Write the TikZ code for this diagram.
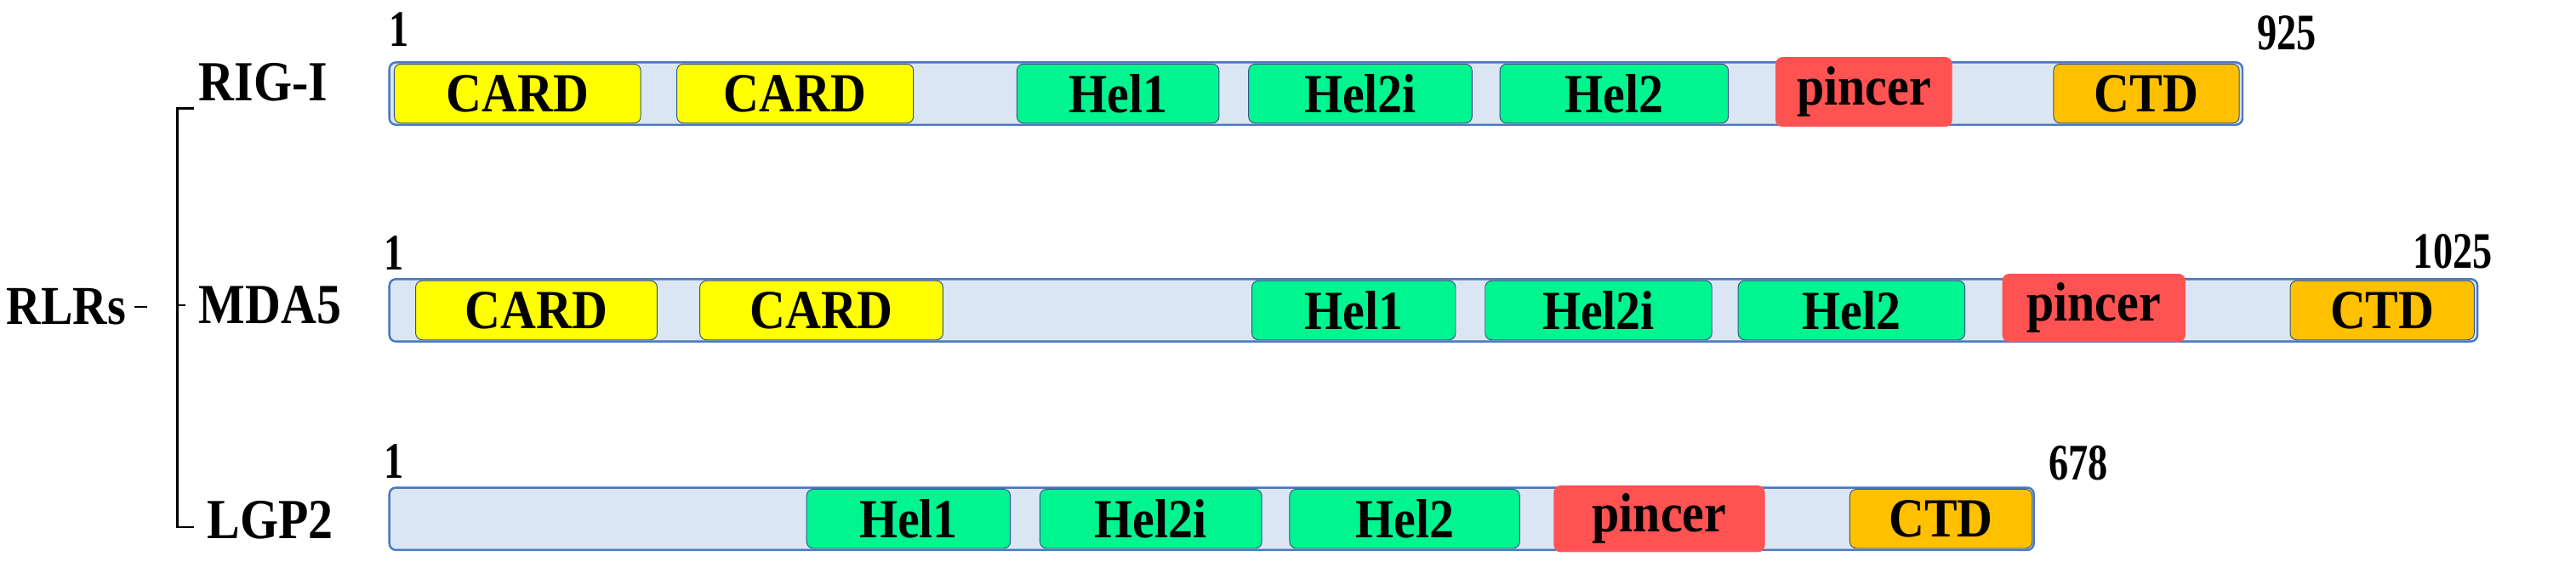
\documentclass[tikz,border=0pt]{standalone}
\usepackage{fontspec}
\usepackage{graphicx}
\setmainfont{Liberation Serif}
\definecolor{barfill}{HTML}{DAE6F3}
\definecolor{barline}{HTML}{4A78C0}
\definecolor{cardc}{HTML}{FFFF00}
\definecolor{helc}{HTML}{00F591}
\definecolor{pinc}{HTML}{FF5252}
\definecolor{ctdc}{HTML}{FFC000}
\newcommand{\tall}[2]{\scalebox{1}[#1]{#2}}
\begin{document}
\begin{tikzpicture}[x=2pt,y=-2pt,
  bar/.style={draw=barline,line width=2.5pt,fill=barfill,rounded corners=8pt},
  dom/.style={draw=barline!70!black,line width=1pt,rounded corners=8pt,font=\fontsize{60}{70}\selectfont\bfseries},
  card/.style={dom,fill=cardc},
  hel/.style={dom,fill=helc},
  pin/.style={dom,fill=pinc,draw=pinc},
  ctd/.style={dom,fill=ctdc},
  lab/.style={font=\fontsize{60}{70}\selectfont\bfseries},
  num/.style={font=\fontsize{48}{56}\selectfont\bfseries}]
\useasboundingbox (0,0) rectangle (1568,349);
\newcommand{\dmn}[7]{\node[#1,minimum width={2pt*(#3-#2)},minimum height={2pt*(#5-#4)},inner sep=0pt] (#6) at ({(#2+#3)/2},{(#4+#5)/2}) {\tall{1.12}{#7}};}
% RIG-I
\draw[bar] (237,38) rectangle (1365,76);
\dmn{card}{240}{390}{39}{75}{r1}{CARD}
\dmn{card}{412}{556}{39}{75}{r2}{CARD}
\dmn{hel}{619}{742}{39}{75}{r3}{Hel1}
\dmn{hel}{760}{896}{39}{75}{r4}{Hel2i}
\dmn{hel}{913}{1052}{39}{75}{r5}{Hel2}
\dmn{pin}{1081}{1188}{35}{77}{r6}{pincer}
\dmn{ctd}{1250}{1363}{39}{75}{r7}{CTD}
\node[num] (n1) at (243,18) {\tall{1.3}{1}};
\node[num] (n2) at (1392,20) {\tall{1.3}{925}};
% MDA5
\draw[bar] (237,170) rectangle (1508,208);
\dmn{card}{253}{400}{171}{207}{m1}{CARD}
\dmn{card}{426}{574}{171}{207}{m2}{CARD}
\dmn{hel}{762}{886}{171}{207}{m3}{Hel1}
\dmn{hel}{904}{1042}{171}{207}{m4}{Hel2i}
\dmn{hel}{1058}{1196}{171}{207}{m5}{Hel2}
\dmn{pin}{1219}{1330}{167}{208}{m6}{pincer}
\dmn{ctd}{1394}{1506}{171}{207}{m7}{CTD}
\node[num] (n3) at (240,154) {\tall{1.3}{1}};
\node[num] (n4) at (1493,153) {\tall{1.3}{1025}};
% LGP2
\draw[bar] (237,297) rectangle (1238,335);
\dmn{hel}{491}{615}{298}{334}{l3}{Hel1}
\dmn{hel}{633}{768}{298}{334}{l4}{Hel2i}
\dmn{hel}{785}{925}{298}{334}{l5}{Hel2}
\dmn{pin}{946}{1074}{296}{336}{l6}{pincer}
\dmn{ctd}{1126}{1237}{298}{334}{l7}{CTD}
\node[num] (n5) at (240,281) {\tall{1.3}{1}};
\node[num] (n6) at (1265,282) {\tall{1.3}{678}};
% labels
\node[lab,anchor=west,inner sep=0pt] (rig) at (121,50) {\tall{1.15}{RIG-I}};
\node[lab,anchor=west,inner sep=0pt] (mda) at (121,186) {\tall{1.15}{MDA5}};
\node[lab,anchor=west,inner sep=0pt] (lgp) at (126,317) {\tall{1.15}{LGP2}};
\node[font=\fontsize{58}{66}\selectfont\bfseries,anchor=west,inner sep=0pt] (rlr) at (4,187) {\tall{1.15}{RLRs}};
\draw[line width=2.5pt] (118,66) -| (108,321) -- (118,321);
\draw[line width=2.5pt] (rlr.east) ++(5,0) -- ++(8,0);
\draw[line width=2.5pt] (108,186) -- (113,186);
\end{tikzpicture}
\end{document}
